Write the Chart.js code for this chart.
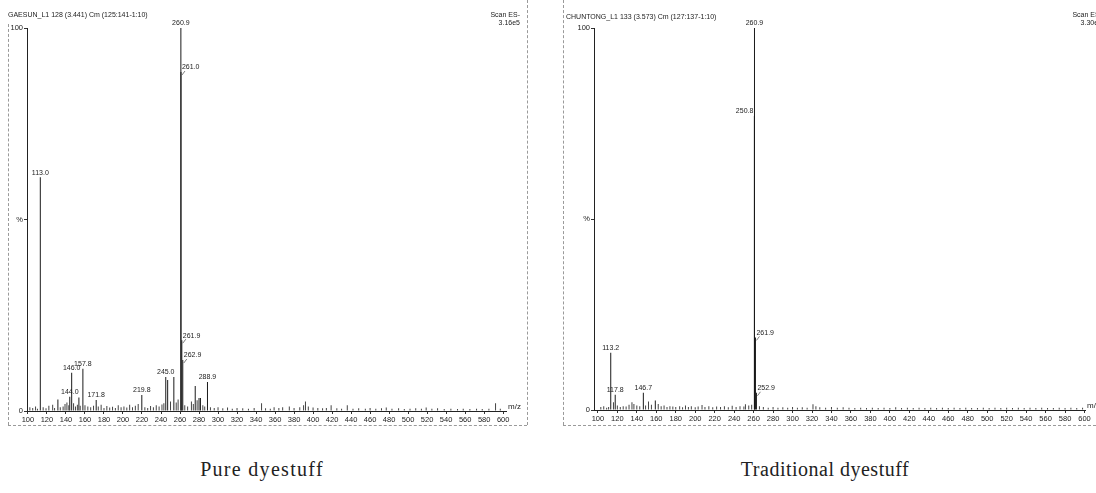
<!DOCTYPE html>
<html>
<head>
<meta charset="utf-8">
<script src="https://cdn.jsdelivr.net/npm/chart.js@4.4.0/dist/chart.umd.min.js"></script>
<style>
  body { margin: 0; background: #fff; width: 1096px; height: 493px; overflow: hidden; position: relative; font-family: "Liberation Sans", Arial, sans-serif; }
  canvas { position: absolute; top: 0; }
  .hdr { position: absolute; font-size: 7px; line-height: 8px; color: #222; white-space: nowrap; }
  .cap { position: absolute; top: 458px; width: 400px; text-align: center; font-family: "Liberation Serif", serif; font-size: 20px; color: #222; }
  .bl { position: absolute; border: 0 dashed #9a9a9a; }
</style>
</head>
<body>
<div class="bl" style="left:8px;top:24px;height:401px;border-left-width:1px"></div>
<div class="bl" style="left:8px;top:425px;width:519px;border-top-width:1px"></div>
<div class="bl" style="left:527px;top:0;height:425px;border-left-width:1px"></div>
<div class="bl" style="left:563px;top:0;height:425px;border-left-width:1px"></div>
<div class="bl" style="left:563px;top:425px;width:533px;border-top-width:1px"></div>

<canvas id="pureChart" width="540" height="432" style="left:0"></canvas>
<canvas id="tradChart" width="536" height="432" style="left:560px"></canvas>

<div class="hdr" style="left:8px;top:11px">GAESUN_L1 128 (3.441) Cm (125:141-1:10)</div>
<div class="hdr" style="left:490px;top:11px;text-align:right;width:30px">Scan ES-<br>3.16e5</div>
<div class="hdr" style="left:566px;top:13px">CHUNTONG_L1 133 (3.573) Cm (127:137-1:10)</div>
<div class="hdr" style="left:1072px;top:11px;text-align:right;width:30px">Scan ES-<br>3.30e5</div>

<div class="cap" style="left:62px;letter-spacing:1.3px">Pure dyestuff</div>
<div class="cap" style="left:625px;letter-spacing:0.5px">Traditional dyestuff</div>

<script>
// m/z tick range
const xTickStep = 20;
const yTicks = [0, 50, 100];

// Pure dyestuff - main peaks
const pureMz = [113.0, 131.5, 144.0, 146.0, 153.6, 157.8, 171.8, 219.8, 245.0, 247.0, 253.5, 260.9, 261.0, 261.9, 262.9, 276.0, 280.0, 281.5, 288.9];
const pureInt = [61, 3, 3.7, 10, 3.5, 11, 2.9, 4.2, 8.9, 8.1, 8.9, 100, 88.5, 18.5, 13.3, 6.5, 3.4, 3.4, 7.6];
const pureLabels = ["113.0", "144.0", "146.0", "157.8", "171.8", "219.8", "245.0", "260.9", "261.0", "261.9", "262.9", "288.9"];
const pureLabelMz = [113.0, 144.0, 146.0, 157.8, 171.8, 219.8, 245.0, 260.9, 261.0, 261.9, 262.9, 288.9];

// Pure dyestuff - baseline noise
const pureNoiseMz = [102, 105, 108, 110, 116, 119, 122, 126, 128, 134, 137, 139, 141, 143, 148, 150, 152, 155, 160, 163, 166, 169, 174, 177, 180, 183, 186, 189, 192, 195, 198, 201, 204, 207, 210, 213, 216, 223, 226, 229, 232, 235, 238, 241, 243, 250, 256, 258, 265, 268, 272, 274, 278, 284, 286, 292, 296, 300, 305, 310, 315, 320, 326, 332, 338, 345.8, 350, 355, 359, 364, 368, 375, 380, 386, 390, 392, 395, 400, 405, 410, 414, 419, 425, 430, 436, 442, 448, 455, 460, 466, 472, 477, 483, 490, 496, 502, 508, 514, 519, 525, 531, 538, 545, 552, 558, 565, 572, 578, 585, 592, 597];
const pureNoiseInt = [1, 0.8, 1.2, 0.6, 1, 0.7, 1.4, 1.6, 0.8, 1, 1.2, 1.8, 2.2, 1.5, 2, 1.2, 1.6, 1.4, 1.5, 1.2, 1, 1.4, 1.2, 1.6, 0.8, 1.3, 0.9, 1.1, 0.8, 1.5, 1, 1.2, 0.9, 1.6, 1, 1.4, 1.8, 1, 0.8, 1.3, 1, 1.5, 1.2, 1.7, 2, 2.5, 2.2, 3, 1.5, 1.2, 2.5, 1.8, 2.8, 1.5, 1.2, 1, 0.8, 1, 0.7, 0.9, 0.6, 0.8, 0.7, 0.6, 0.8, 2, 0.7, 0.6, 1, 0.8, 1, 1.2, 0.8, 1, 1.5, 2.5, 1.2, 0.9, 0.8, 0.7, 0.8, 1.5, 0.7, 0.6, 1.5, 0.6, 0.7, 0.6, 0.8, 0.6, 0.7, 0.9, 0.6, 0.7, 0.5, 0.6, 0.7, 0.6, 0.9, 0.6, 0.7, 0.5, 0.6, 0.5, 0.6, 0.5, 0.6, 0.5, 0.6, 2, 0.6];

// Traditional dyestuff - main peaks
const tradMz = [113.2, 117.8, 146.7, 159.0, 260.8, 260.9, 261.9, 262.9];
const tradInt = [15, 4, 4.5, 2.5, 77, 100, 19, 4.5];
const tradLabels = ["113.2", "117.8", "146.7", "260.9", "250.8", "261.9", "252.9"];
const tradLabelMz = [113.2, 117.8, 146.7, 260.9, 260.8, 261.9, 262.9];

// Traditional dyestuff - baseline noise
const tradNoiseMz = [103, 106, 109, 111, 116, 120, 123, 126, 129, 132, 135, 137, 140, 143, 149, 152, 155, 162, 165, 168, 171, 174, 177, 180, 184, 187, 190, 193, 196, 200, 203, 207, 210, 214, 218, 222, 226, 230, 234, 238, 242, 246, 250, 251.6, 255, 258, 266, 270, 275, 280, 285, 290, 295, 300, 305, 310, 315, 321, 324, 328, 334, 340, 346, 352, 358, 364, 370, 376, 382, 388, 394, 400, 406, 412, 418, 424, 430, 436, 442, 448, 454, 460, 466, 472, 478, 484, 490, 496, 502, 508, 514, 520, 526, 532, 538, 544, 550, 556, 562, 568, 574, 580, 586, 592, 598];
const tradNoiseInt = [0.8, 1, 0.6, 0.8, 2, 1.2, 0.8, 1, 0.9, 1.4, 2, 1.6, 1.2, 1, 1.2, 2.2, 1.4, 1.6, 1, 1.2, 0.8, 1, 0.9, 0.8, 1, 0.7, 1.2, 0.8, 1, 0.7, 0.9, 1.3, 0.8, 1, 0.7, 0.9, 0.8, 1, 0.7, 1.1, 0.8, 1, 0.9, 1.5, 1.2, 1.4, 1, 0.8, 0.6, 0.8, 0.6, 0.7, 0.6, 0.8, 0.6, 0.7, 0.6, 1.5, 1, 0.7, 0.6, 0.8, 0.6, 0.7, 0.6, 0.5, 0.6, 0.5, 0.6, 0.5, 0.6, 0.5, 0.7, 0.5, 0.6, 0.5, 0.6, 0.5, 0.6, 0.5, 0.6, 0.5, 0.6, 0.5, 0.6, 0.5, 0.5, 0.6, 0.5, 0.6, 0.5, 0.6, 0.5, 0.6, 0.5, 0.6, 0.5, 0.6, 0.5, 0.5, 0.6, 0.5, 0.6, 0.5, 0.6];

const smallFont = { family: "Liberation Sans", size: 7.5 };

// label side: text right of the line for the stacked isotope labels
const labelSide = { "261.0": "right", "261.9": "right", "262.9": "right", "252.9": "right", "250.8": "left" };

const toPoints = (xs, ys) => xs.map((x, i) => ({ x: x, y: ys[i] }));

const peakLabelsPlugin = {
  id: "peakLabels",
  afterDatasetsDraw(chart, args, opts) {
    const { ctx, scales } = chart;
    ctx.save();
    ctx.font = "7px 'Liberation Sans'";
    ctx.fillStyle = "#222";
    ctx.strokeStyle = "#444";
    ctx.lineWidth = 0.7;
    ctx.textBaseline = "bottom";
    opts.mz.forEach((m, i) => {
      const idx = opts.peakMz.indexOf(m);
      const px = scales.x.getPixelForValue(m);
      const py = scales.y.getPixelForValue(opts.peakInt[idx]);
      const side = labelSide[opts.text[i]] || "center";
      if (side === "right") {
        ctx.textAlign = "left";
        ctx.fillText(opts.text[i], px + 1, py - 1);
        ctx.beginPath();
        ctx.moveTo(px + 4, py - 1);
        ctx.lineTo(px + 1, py + 3);
        ctx.stroke();
      } else if (side === "left") {
        ctx.textAlign = "right";
        ctx.fillText(opts.text[i], px - 1, py - 1);
      } else {
        ctx.textAlign = "center";
        ctx.fillText(opts.text[i], px, py - 1);
      }
    });
    // axis name at the end of the m/z axis
    ctx.textAlign = "left";
    ctx.textBaseline = "middle";
    ctx.font = "8px 'Liberation Sans'";
    ctx.fillText("m/z", chart.chartArea.right + 2, chart.chartArea.bottom - 4);
    ctx.restore();
  }
};

const makeSpectrum = (id, peakMz, peakInt, noiseMz, noiseInt, labelMz, labelText, xMin, xMax, area) => {
  const ctx = document.getElementById(id).getContext("2d");
  return new Chart(ctx, {
    type: "bar",
    data: {
      datasets: [
        { data: toPoints(noiseMz, noiseInt), backgroundColor: "#444", barThickness: 1, inflateAmount: 0, grouped: false },
        { data: toPoints(peakMz, peakInt), backgroundColor: "#1a1a1a", barThickness: 1, inflateAmount: 0, grouped: false }
      ]
    },
    options: {
      responsive: false,
      animation: false,
      layout: { padding: { left: 0, right: area.right, top: area.top, bottom: area.bottom } },
      plugins: {
        legend: { display: false },
        tooltip: { enabled: false },
        peakLabels: { mz: labelMz, text: labelText, peakMz: peakMz, peakInt: peakInt }
      },
      scales: {
        x: {
          type: "linear",
          offset: false,
          min: xMin,
          max: xMax,
          afterFit: (s) => { s.height = 18; },
          grid: { display: true, drawOnChartArea: false, offset: false, tickLength: 3, color: "#333" },
          border: { display: true, color: "#222", width: 1 },
          ticks: { stepSize: xTickStep, includeBounds: false, autoSkip: false, maxRotation: 0, padding: 1, color: "#222", font: smallFont }
        },
        y: {
          min: 0,
          max: 100,
          afterFit: (s) => { s.width = area.left; },
          afterBuildTicks: (s) => { s.ticks = yTicks.map((v) => ({ value: v })); },
          grid: { display: true, drawOnChartArea: false, tickLength: 3, color: "#333" },
          border: { display: true, color: "#222", width: 1 },
          ticks: {
            padding: 1,
            color: "#222",
            font: smallFont,
            callback: (v) => (v === 50 ? "%" : v)
          }
        }
      }
    },
    plugins: [peakLabelsPlugin]
  });
};

makeSpectrum("pureChart", pureMz, pureInt, pureNoiseMz, pureNoiseInt, pureLabelMz, pureLabels, 99, 603,
  { left: 27, right: 34, top: 28, bottom: 3 });
makeSpectrum("tradChart", tradMz, tradInt, tradNoiseMz, tradNoiseInt, tradLabelMz, tradLabels, 96, 600.5,
  { left: 34, right: 11, top: 28, bottom: 4 });
</script>
</body>
</html>
